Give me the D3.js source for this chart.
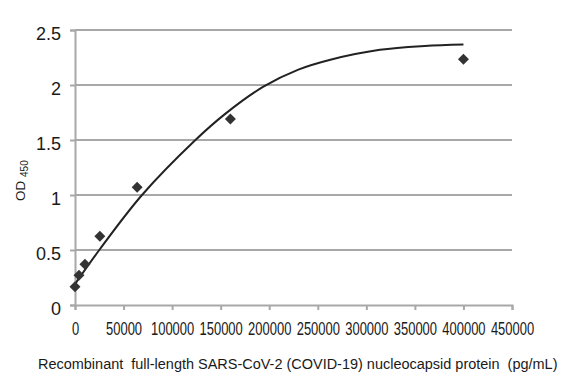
<!DOCTYPE html>
<html>
<head>
<meta charset="utf-8">
<script src="https://cdn.jsdelivr.net/npm/d3@7"></script>
<style>
  html, body { margin: 0; padding: 0; background: #fff; }
  svg { display: block; }
  text { font-family: "Liberation Sans", Arial, sans-serif; fill: #1a1a1a; }
</style>
</head>
<body>
<svg id="chart" width="582" height="382"></svg>
<script>
// Measured standards (concentration pg/mL, OD450)
const concentrations = [0, 4096, 10240, 25600, 64000, 160000, 400000];
const odValues = [0.165, 0.27, 0.37, 0.625, 1.07, 1.69, 2.235];

// Fitted trendline
const fitX = [0, 25000, 69000, 124000, 155000, 194000, 230000, 263000, 314000, 360000, 400000];
const fitY = [0.19, 0.5, 1.0, 1.5, 1.74, 1.985, 2.14, 2.23, 2.32, 2.355, 2.368];

const xTicks = [0, 50000, 100000, 150000, 200000, 250000, 300000, 350000, 400000, 450000];
const yTicks = [0, 0.5, 1, 1.5, 2, 2.5];

const xTitle = "Recombinant  full-length SARS-CoV-2 (COVID-19) nucleocapsid protein  (pg/mL)";

const svg = d3.select("#chart");
const x = d3.scaleLinear().domain([0, 450000]).range([75, 512]);
const y = d3.scaleLinear().domain([0, 2.5]).range([305, 30]);

const gridColor = "#a8a8a8";

// Horizontal gridlines
svg.append("g").selectAll("line")
  .data(yTicks.filter(d => d > 0))
  .join("line")
  .attr("x1", x(0)).attr("x2", x(450000))
  .attr("y1", d => y(d)).attr("y2", d => y(d))
  .attr("stroke", gridColor).attr("stroke-width", 2);

// Y axis
const yAxis = svg.append("g")
  .attr("transform", `translate(${x(0)},0)`)
  .call(d3.axisLeft(y).tickValues(yTicks).tickFormat(d3.format("")).tickSize(5).tickPadding(9));
yAxis.select(".domain").attr("stroke", gridColor).attr("stroke-width", 2);
yAxis.selectAll(".tick line").attr("stroke", gridColor).attr("stroke-width", 2);
yAxis.selectAll(".tick text")
  .attr("font-size", 18)
  .attr("font-family", "Liberation Sans, Arial, sans-serif")
  .attr("fill", "#1a1a1a")
  .attr("dy", "0.55em");

// X axis
const xAxis = svg.append("g")
  .attr("transform", `translate(0,${y(0)})`)
  .call(d3.axisBottom(x).tickValues(xTicks).tickFormat(d3.format("d")).tickSize(5).tickPadding(0));
xAxis.select(".domain").attr("stroke", gridColor).attr("stroke-width", 2);
xAxis.selectAll(".tick line").attr("stroke", gridColor).attr("stroke-width", 2);
xAxis.selectAll(".tick text")
  .attr("font-size", 18)
  .attr("font-family", "Liberation Sans, Arial, sans-serif")
  .attr("fill", "#1a1a1a")
  .attr("y", 0).attr("dy", 0)
  .attr("transform", "translate(0,30) scale(0.72,1)")
  .attr("x", 0);

// Trendline
const fitData = fitX.map((v, i) => [v, fitY[i]]);
svg.append("path")
  .datum(fitData)
  .attr("fill", "none")
  .attr("stroke", "#222")
  .attr("stroke-width", 2)
  .attr("d", d3.line().x(d => x(d[0])).y(d => y(d[1])).curve(d3.curveCatmullRom.alpha(0.5)));

// Diamond markers
const pts = concentrations.map((c, i) => [c, odValues[i]]);
svg.append("g").selectAll("path")
  .data(pts)
  .join("path")
  .attr("d", d3.symbol().type(d3.symbolSquare).size(60))
  .attr("transform", d => `translate(${x(d[0])},${y(d[1])}) rotate(45)`)
  .attr("fill", "#333");

// Y axis title (OD with subscript 450)
const yt = svg.append("text")
  .attr("transform", "translate(25,201) rotate(-90)")
  .attr("font-size", 13.5);
yt.append("tspan").text("OD ");
yt.append("tspan").attr("font-size", 10).attr("dy", 3).text("450");

// X axis title, scaled horizontally to span the measured width
const titleLeft = 38, titleWidth = 520;
const xt = svg.append("text")
  .attr("x", 0).attr("y", 0)
  .attr("font-family", "Open Sans, Liberation Sans, sans-serif")
  .attr("font-size", 15.5)
  .attr("fill", "#111")
  .style("white-space", "pre")
  .text(xTitle);
const natural = xt.node().getComputedTextLength();
xt.attr("transform", `translate(${titleLeft},369) scale(${titleWidth / natural},1)`);
</script>
</body>
</html>
